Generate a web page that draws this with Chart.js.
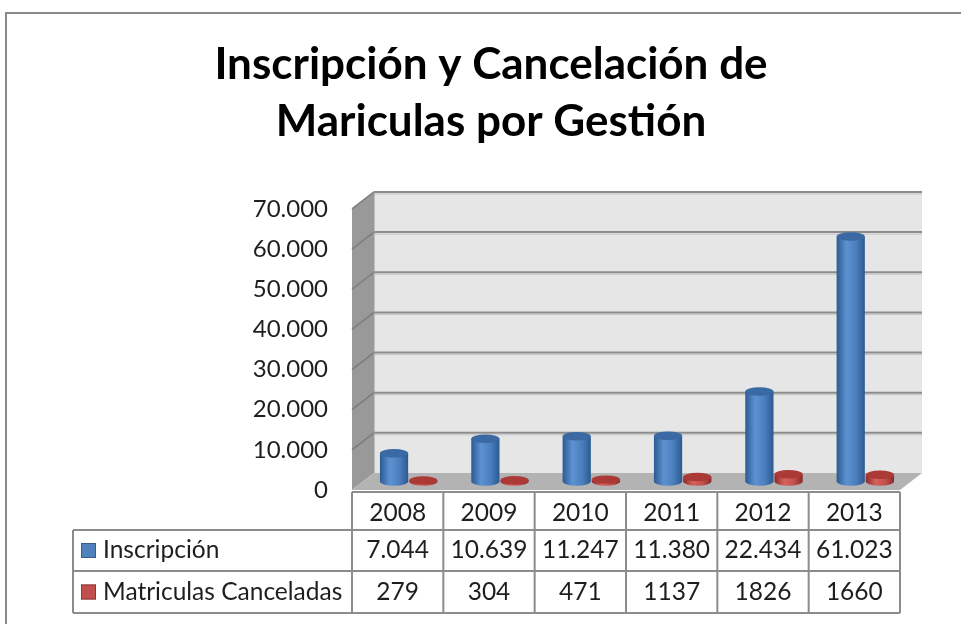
<!DOCTYPE html>
<html>
<head>
<meta charset="utf-8">
<script src="https://cdn.jsdelivr.net/npm/chart.js@4.4.1/dist/chart.umd.min.js"></script>
<style>
  body { margin: 0; background: #ffffff; }
  canvas { display: block; }
</style>
</head>
<body>
<canvas id="chart" width="961" height="624"></canvas>
<script>
// Data
const years = ['2008', '2009', '2010', '2011', '2012', '2013'];
const inscripcion = [7044, 10639, 11247, 11380, 22434, 61023];
const canceladas = [279, 304, 471, 1137, 1826, 1660];
const seriesNames = ['Inscripción', 'Matriculas Canceladas'];
const useThousands = [true, false];
const yMax = 70000;
const yStep = 10000;

// Colours (Excel 2007 style)
const seriesColors = [
  { dark: '#2b5a92', light: '#5d92d2', mid: '#4a7dbb', cap: '#3a69a4', key: '#4f81bd', keyBorder: '#385d8a' },
  { dark: '#8a2a27', light: '#d6625d', mid: '#c0504d', cap: '#ab3a36', key: '#c0504d', keyBorder: '#8c3836' }
];
const gridColor = '#8c8c8c';
const textColor = '#1e1e1e';
const fontFamily = 'Lato, "Open Sans", sans-serif';

// depth of the 3d box (back wall offset)
const depth = { dx: 22, dy: -17 };

function fmt(v, dots) {
  const s = String(v);
  return dots ? s.replace(/\B(?=(\d{3})+(?!\d))/g, '.') : s;
}

const excel3d = {
  id: 'excel3d',
  beforeDraw(chart) {
    const ctx = chart.ctx;
    // outer chart border
    ctx.save();
    ctx.strokeStyle = '#8a8a8a';
    ctx.lineWidth = 2;
    ctx.beginPath();
    ctx.moveTo(6, 624);
    ctx.lineTo(6, 13);
    ctx.lineTo(961, 13);
    ctx.stroke();
    ctx.restore();
  },
  beforeDatasetsDraw(chart) {
    const ctx = chart.ctx;
    const { left, right, top, bottom } = chart.chartArea;
    const yScale = chart.scales.y;
    const { dx, dy } = depth;
    ctx.save();
    // back wall
    ctx.fillStyle = '#e6e6e6';
    ctx.fillRect(left + dx, top + dy, right - left, bottom - top);
    // side wall
    ctx.fillStyle = '#999999';
    ctx.beginPath();
    ctx.moveTo(left, top);
    ctx.lineTo(left + dx, top + dy);
    ctx.lineTo(left + dx, bottom + dy);
    ctx.lineTo(left, bottom);
    ctx.closePath();
    ctx.fill();
    // floor
    ctx.fillStyle = '#b3b3b3';
    ctx.beginPath();
    ctx.moveTo(left, bottom);
    ctx.lineTo(right, bottom);
    ctx.lineTo(right + dx, bottom + dy);
    ctx.lineTo(left + dx, bottom + dy);
    ctx.closePath();
    ctx.fill();
    // gridlines on back and side walls
    yScale.ticks.forEach(t => {
      if (t.value === 0) return;
      const py = yScale.getPixelForValue(t.value);
      ctx.strokeStyle = '#c4c4c4';
      ctx.lineWidth = 1;
      ctx.beginPath();
      ctx.moveTo(left + dx, py + dy + 2);
      ctx.lineTo(right + dx, py + dy + 2);
      ctx.stroke();
      ctx.strokeStyle = gridColor;
      ctx.lineWidth = 2;
      ctx.beginPath();
      ctx.moveTo(left + dx, py + dy);
      ctx.lineTo(right + dx, py + dy);
      ctx.stroke();
      ctx.strokeStyle = '#7c7c7c';
      ctx.lineWidth = 1.5;
      ctx.beginPath();
      ctx.moveTo(left, py);
      ctx.lineTo(left + dx, py + dy);
      ctx.stroke();
    });
    // box edges
    ctx.strokeStyle = '#9a9a9a';
    ctx.lineWidth = 1;
    ctx.beginPath();
    ctx.moveTo(left + dx, bottom + dy);
    ctx.lineTo(left + dx, top + dy);
    ctx.stroke();
    ctx.restore();
  },
  afterDatasetsDraw(chart) {
    const ctx = chart.ctx;
    const ox = depth.dx / 2, oy = depth.dy / 2;
    const metas = chart.data.datasets.map((d, i) => chart.getDatasetMeta(i));
    years.forEach((yr, idx) => {
      metas.forEach((meta, d) => {
        const el = meta.data[idx];
        const { x, y, base, width } = el.getProps(['x', 'y', 'base', 'width'], true);
        const c = seriesColors[d];
        const cx = x + ox;
        const top = y + oy;
        const bot = base + oy;
        const rx = width / 2 - 0.5;
        const ry = rx * 0.3;
        ctx.save();
        // body
        const g = ctx.createLinearGradient(cx - rx, 0, cx + rx, 0);
        g.addColorStop(0, c.dark);
        g.addColorStop(0.35, c.light);
        g.addColorStop(0.7, c.mid);
        g.addColorStop(1, c.dark);
        ctx.fillStyle = g;
        ctx.beginPath();
        ctx.moveTo(cx - rx, top);
        ctx.lineTo(cx - rx, bot);
        ctx.ellipse(cx, bot, rx, ry, 0, Math.PI, 0, true);
        ctx.lineTo(cx + rx, top);
        ctx.closePath();
        ctx.fill();
        // top cap
        ctx.fillStyle = c.cap;
        ctx.beginPath();
        ctx.ellipse(cx, top, rx, ry, 0, 0, Math.PI * 2);
        ctx.fill();
        ctx.restore();
      });
    });
  },
  afterDraw(chart) {
    const ctx = chart.ctx;
    const { left, right, bottom } = chart.chartArea;
    const xScale = chart.scales.x;
    const colW = (right - left) / years.length;
    const legendLeft = 73;
    const r0 = bottom + 2, r1 = bottom + 40, r2 = bottom + 81, r3 = bottom + 123;
    ctx.save();
    ctx.strokeStyle = gridColor;
    ctx.lineWidth = 2;
    ctx.beginPath();
    ctx.moveTo(left, r0); ctx.lineTo(right, r0);
    [r1, r2, r3].forEach(r => { ctx.moveTo(legendLeft, r); ctx.lineTo(right, r); });
    ctx.moveTo(legendLeft, r1); ctx.lineTo(legendLeft, r3);
    for (let i = 0; i <= years.length; i++) {
      const bx = left + i * colW;
      ctx.moveTo(bx, r0); ctx.lineTo(bx, r3);
    }
    ctx.stroke();

    ctx.fillStyle = textColor;
    ctx.font = '24.5px ' + fontFamily;
    ctx.textAlign = 'center';
    ctx.textBaseline = 'middle';
    years.forEach((yr, i) => {
      ctx.fillText(yr, xScale.getPixelForValue(i), (r0 + r1) / 2 + 2);
    });
    const rows = [[r1, r2], [r2, r3]];
    chart.data.datasets.forEach((ds, d) => {
      const cy = (rows[d][0] + rows[d][1]) / 2;
      ds.data.forEach((v, i) => {
        ctx.fillStyle = textColor;
        ctx.textAlign = 'center';
        ctx.fillText(fmt(v, useThousands[d]), xScale.getPixelForValue(i), cy);
      });
      // legend key
      const c = seriesColors[d];
      ctx.fillStyle = c.key;
      ctx.fillRect(81, cy - 7.5, 15, 15);
      ctx.strokeStyle = c.keyBorder;
      ctx.lineWidth = 1;
      ctx.strokeRect(81.5, cy - 7, 14, 14);
      ctx.fillStyle = textColor;
      ctx.textAlign = 'left';
      ctx.fillText(ds.label, 103, cy);
    });
    ctx.restore();
  }
};

const chart = new Chart(document.getElementById('chart').getContext('2d'), {
  type: 'bar',
  data: {
    labels: years,
    datasets: [
      { label: seriesNames[0], data: inscripcion, backgroundColor: 'rgba(0,0,0,0)', categoryPercentage: 0.64, barPercentage: 1 },
      { label: seriesNames[1], data: canceladas, backgroundColor: 'rgba(0,0,0,0)', categoryPercentage: 0.64, barPercentage: 1 }
    ]
  },
  options: {
    responsive: false,
    animation: false,
    layout: { padding: { left: 82, right: 61, top: 0, bottom: 134 } },
    plugins: {
      legend: { display: false },
      tooltip: { enabled: false },
      title: {
        display: true,
        text: ['Inscripción y Cancelación de', 'Mariculas por Gestión'],
        color: '#000000',
        font: { family: fontFamily, size: 44, weight: 'bold', lineHeight: 1.295 },
        padding: { top: 36.5, bottom: 58.5 }
      }
    },
    scales: {
      x: { display: false },
      y: {
        min: 0,
        max: yMax,
        afterFit(scale) { scale.width = 270; },
        ticks: {
          stepSize: yStep,
          padding: 24,
          color: textColor,
          font: { family: fontFamily, size: 24 },
          callback: v => fmt(v, true)
        },
        grid: { display: false, drawTicks: false, tickLength: 0 },
        border: { display: false }
      }
    }
  },
  plugins: [excel3d]
});
</script>
</body>
</html>
